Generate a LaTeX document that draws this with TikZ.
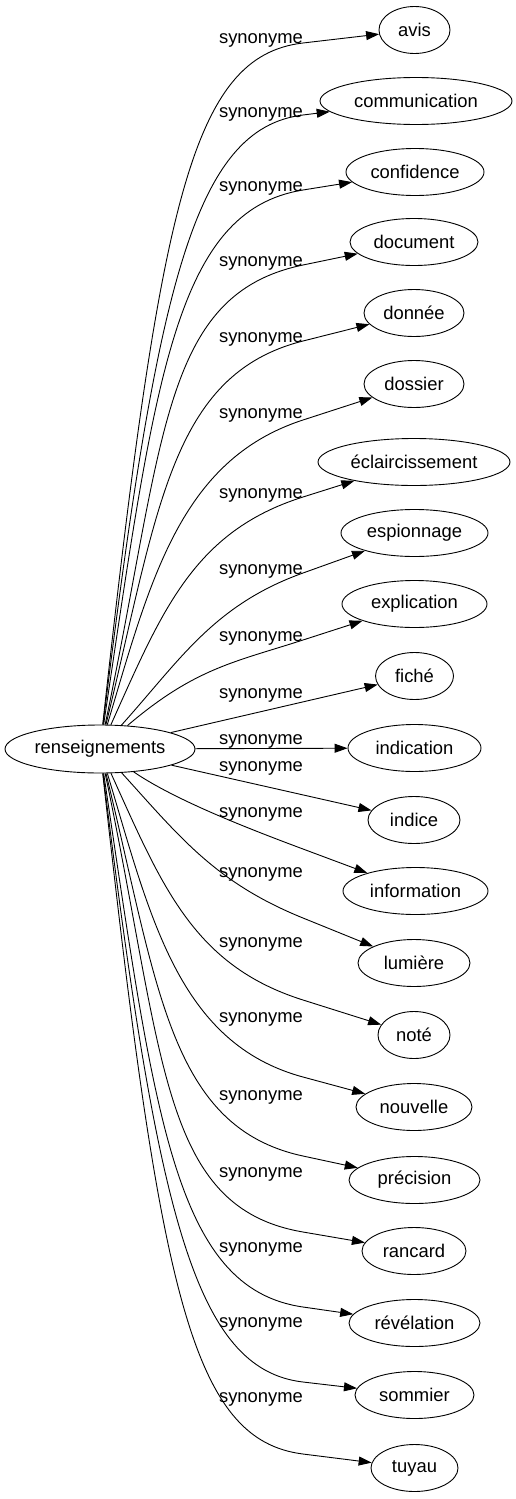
\documentclass[tikz,border=0pt]{standalone}
\usepackage{fontspec}
\setmainfont{Liberation Sans}
\usetikzlibrary{shapes.geometric,arrows.meta,calc}
\tikzset{
  word/.style={ellipse,draw,line width=0.9pt,inner sep=0pt,minimum height=47pt,font=\fontsize{18.4}{22}\selectfont},
  lbl/.style={anchor=base,inner sep=0pt,font=\fontsize{18.4}{22}\selectfont},
  edge/.style={line width=0.9pt,-{Triangle[length=13pt,width=9pt]}}
}
\newcommand{\curvedge}[5]{% src, P1, B, b, target
  \draw[edge] (#1) .. controls #2 and ($#3!-#4pt!(#5.center)$) .. #3 -- (#5);
}
\begin{document}
\begin{tikzpicture}[x=1pt,y=-1pt]
\useasboundingbox (0,0) rectangle (515,1499);
\node[word,minimum width=190pt,minimum height=48pt] (src) at (100,749) {renseignements};
\node[word,minimum width=71pt] (t1) at (414.5,30) {avis};
\node[word,minimum width=192pt] (t2) at (416,101) {communication};
\node[word,minimum width=138pt] (t3) at (415,172) {confidence};
\node[word,minimum width=128pt] (t4) at (414,242) {document};
\node[word,minimum width=100pt] (t5) at (414,313) {donnée};
\node[word,minimum width=100pt] (t6) at (414,384) {dossier};
\node[word,minimum width=192pt] (t7) at (414,462) {éclaircissement};
\node[word,minimum width=147pt] (t8) at (414.5,533) {espionnage};
\node[word,minimum width=145pt] (t9) at (414.5,604) {explication};
\node[word,minimum width=78pt] (t10) at (414.5,676) {fiché};
\node[word,minimum width=133pt] (t11) at (414.5,748) {indication};
\node[word,minimum width=92pt] (t12) at (414,820) {indice};
\node[word,minimum width=145pt] (t13) at (415.5,891) {information};
\node[word,minimum width=112pt] (t14) at (414,963) {lumière};
\node[word,minimum width=72pt] (t15) at (414,1035) {noté};
\node[word,minimum width=116pt] (t16) at (414,1107) {nouvelle};
\node[word,minimum width=131pt] (t17) at (414.5,1180) {précision};
\node[word,minimum width=104pt] (t18) at (414,1251) {rancard};
\node[word,minimum width=131pt] (t19) at (414.5,1323) {révélation};
\node[word,minimum width=119pt] (t20) at (414.5,1395) {sommier};
\node[word,minimum width=87pt] (t21) at (414.5,1468) {tuyau};
% labels
\node[lbl] (l1) at (261,43) {synonyme};
\node[lbl] (l2) at (261,117) {synonyme};
\node[lbl] (l3) at (261,191) {synonyme};
\node[lbl] (l4) at (261,266) {synonyme};
\node[lbl] (l5) at (261,342) {synonyme};
\node[lbl] (l6) at (261,418) {synonyme};
\node[lbl] (l7) at (261,498) {synonyme};
\node[lbl] (l8) at (261,574) {synonyme};
\node[lbl] (l9) at (261,641) {synonyme};
\node[lbl] (l10) at (261,698) {synonyme};
\node[lbl] (l11) at (261,744) {synonyme};
\node[lbl] (l12) at (261,771) {synonyme};
\node[lbl] (l13) at (261,817) {synonyme};
\node[lbl] (l14) at (261,877) {synonyme};
\node[lbl] (l15) at (261,947) {synonyme};
\node[lbl] (l16) at (261,1022) {synonyme};
\node[lbl] (l17) at (261,1100) {synonyme};
\node[lbl] (l18) at (261,1177) {synonyme};
\node[lbl] (l19) at (261,1252) {synonyme};
\node[lbl] (l20) at (261,1327) {synonyme};
\node[lbl] (l21) at (261,1402) {synonyme};
% edges
\curvedge{src}{(160,206)}{(303,43)}{113}{t1}
\curvedge{src}{(157,286)}{(303,115)}{110}{t2}
\curvedge{src}{(155,380)}{(303,190)}{130}{t3}
\curvedge{src}{(165,440)}{(303,265)}{145}{t4}
\curvedge{src}{(158,511)}{(303,341)}{137}{t5}
\curvedge{src}{(150,582)}{(303,420)}{130}{t6}
\curvedge{src}{(162,611)}{(303,497)}{115}{t7}
\curvedge{src}{(180,660)}{(303,573)}{95}{t8}
\curvedge{src}{(195,668)}{(303,640)}{72}{t9}
\draw[edge] (src) -- (t10);
\draw[edge] (src) -- (t11);
\draw[edge] (src) -- (t12);
\curvedge{src}{(175,800)}{(303,849)}{60}{t13}
\curvedge{src}{(180,837)}{(303,918)}{95}{t14}
\curvedge{src}{(162,886)}{(303,1000)}{115}{t15}
\curvedge{src}{(150,915)}{(303,1077)}{130}{t16}
\curvedge{src}{(158,986)}{(303,1156)}{137}{t17}
\curvedge{src}{(165,1057)}{(303,1232)}{145}{t18}
\curvedge{src}{(155,1117)}{(303,1307)}{130}{t19}
\curvedge{src}{(157,1211)}{(303,1382)}{110}{t20}
\curvedge{src}{(160,1291)}{(303,1454)}{113}{t21}
\end{tikzpicture}
\end{document}
